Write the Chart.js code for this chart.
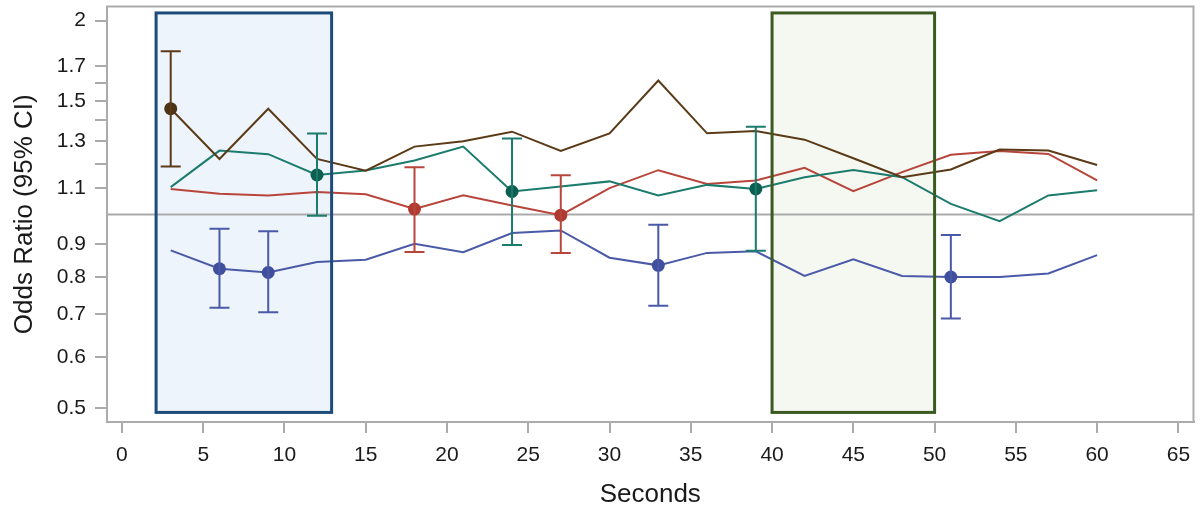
<!DOCTYPE html>
<html>
<head>
<meta charset="utf-8">
<script src="https://cdn.jsdelivr.net/npm/chart.js@4"></script>
<style>
  html, body { margin: 0; padding: 0; background: #fff; }
  #wrap { width: 1200px; height: 511px; }
</style>
</head>
<body>
<div id="wrap"><canvas id="orChart" width="1200" height="511"></canvas></div>
<script>
// time points (seconds)
const seconds = [3, 6, 9, 12, 15, 18, 21, 24, 27, 30, 33, 36, 39, 42, 45, 48, 51, 54, 57, 60];

// odds ratios per series
const brownOR = [1.46, 1.22, 1.46, 1.22, 1.17, 1.275, 1.30, 1.345, 1.255, 1.337, 1.615, 1.337, 1.348, 1.307, 1.223, 1.143, 1.175, 1.262, 1.257, 1.194];
const tealOR  = [1.103, 1.257, 1.241, 1.152, 1.171, 1.213, 1.275, 1.086, 1.106, 1.126, 1.071, 1.112, 1.096, 1.143, 1.173, 1.143, 1.039, 0.977, 1.071, 1.091];
const redOR   = [1.096, 1.077, 1.071, 1.084, 1.075, 1.020, 1.071, 1.033, 0.998, 1.099, 1.172, 1.116, 1.130, 1.182, 1.087, 1.164, 1.238, 1.255, 1.242, 1.130];
const blueOR  = [0.880, 0.824, 0.813, 0.844, 0.851, 0.901, 0.874, 0.936, 0.945, 0.857, 0.834, 0.872, 0.877, 0.803, 0.852, 0.803, 0.800, 0.800, 0.810, 0.865];

// points shown with a marker and 95% CI
const brownCiSec = [3],              brownCiLow = [1.187],               brownCiHigh = [1.793];
const tealCiSec  = [12, 24, 39],     tealCiLow  = [0.996, 0.897, 0.879], tealCiHigh  = [1.336, 1.312, 1.369];
const redCiSec   = [18, 27],         redCiLow   = [0.875, 0.872],        redCiHigh   = [1.184, 1.151];
const blueCiSec  = [6, 9, 33, 51],   blueCiLow  = [0.717, 0.705, 0.722, 0.690], blueCiHigh = [0.951, 0.942, 0.964, 0.930];

// shaded windows (seconds)
const windowStart = [2.1, 40];
const windowEnd   = [12.9, 50];
const windowLow = 0.493, windowHigh = 2.056;

// axis ticks
const xTicks = [0, 5, 10, 15, 20, 25, 30, 35, 40, 45, 50, 55, 60, 65];
const yTicksLabeled = [0.5, 0.6, 0.7, 0.8, 0.9, 1.1, 1.3, 1.5, 1.7, 2];
const yTicksMinor = [1.2, 1.4, 1.6];
const refValue = 1;

const COLORS = {
  brown: '#5b3a17', brownDot: '#4e3216',
  teal: '#1b7b6d', tealDot: '#0c5e51',
  red: '#b8453b', redDot: '#b03a30',
  blue: '#4a5aa8', blueDot: '#3f4f9e',
  axis: '#ababab'
};
const boxStyle = [
  { fill: '#eef4fc', stroke: '#1d4b7a' },
  { fill: '#f5f8f0', stroke: '#3a5a22' }
];

function makeSet(vals, ciSec, line, dot) {
  return {
    data: seconds.map((s, i) => ({ x: s, y: vals[i] })),
    borderColor: line,
    borderWidth: 2,
    pointRadius: seconds.map(s => ciSec.includes(s) ? 6.5 : 0),
    pointBackgroundColor: dot,
    pointBorderWidth: 0,
    pointHoverRadius: 0,
    tension: 0,
    fill: false
  };
}

const ciGroups = [
  { sec: brownCiSec, low: brownCiLow, high: brownCiHigh, color: COLORS.brown },
  { sec: tealCiSec, low: tealCiLow, high: tealCiHigh, color: COLORS.teal },
  { sec: redCiSec, low: redCiLow, high: redCiHigh, color: COLORS.red },
  { sec: blueCiSec, low: blueCiLow, high: blueCiHigh, color: COLORS.blue }
];

const backdrop = {
  id: 'backdrop',
  beforeDatasetsDraw(chart) {
    const { ctx, chartArea: a, scales: { x, y } } = chart;
    ctx.save();
    windowStart.forEach((s, i) => {
      const x0 = x.getPixelForValue(s), x1 = x.getPixelForValue(windowEnd[i]);
      const y0 = y.getPixelForValue(windowHigh), y1 = y.getPixelForValue(windowLow);
      ctx.fillStyle = boxStyle[i].fill;
      ctx.fillRect(x0, y0, x1 - x0, y1 - y0);
    });
    // reference line at OR = 1
    const yr = y.getPixelForValue(refValue);
    ctx.strokeStyle = COLORS.axis;
    ctx.lineWidth = 2;
    ctx.beginPath();
    ctx.moveTo(a.left, yr);
    ctx.lineTo(a.right, yr);
    ctx.stroke();
    ctx.restore();
  },
  afterDatasetsDraw(chart) {
    const { ctx, chartArea: a, scales: { x, y } } = chart;
    ctx.save();
    // error bars
    ctx.lineWidth = 2;
    ciGroups.forEach(g => {
      ctx.strokeStyle = g.color;
      g.sec.forEach((s, i) => {
        const px = x.getPixelForValue(s);
        const lo = y.getPixelForValue(g.low[i]), hi = y.getPixelForValue(g.high[i]);
        ctx.beginPath();
        ctx.moveTo(px, lo); ctx.lineTo(px, hi);
        ctx.moveTo(px - 10, lo); ctx.lineTo(px + 10, lo);
        ctx.moveTo(px - 10, hi); ctx.lineTo(px + 10, hi);
        ctx.stroke();
      });
    });
    // window outlines
    ctx.lineWidth = 3;
    windowStart.forEach((s, i) => {
      const x0 = x.getPixelForValue(s), x1 = x.getPixelForValue(windowEnd[i]);
      const y0 = y.getPixelForValue(windowHigh), y1 = y.getPixelForValue(windowLow);
      ctx.strokeStyle = boxStyle[i].stroke;
      ctx.strokeRect(x0, y0, x1 - x0, y1 - y0);
    });
    // frame
    ctx.strokeStyle = COLORS.axis;
    ctx.lineWidth = 2;
    ctx.strokeRect(a.left, a.top, a.right - a.left, a.bottom - a.top);
    ctx.restore();
  }
};

new Chart(document.getElementById('orChart'), {
  type: 'line',
  data: {
    datasets: [
      makeSet(brownOR, brownCiSec, COLORS.brown, COLORS.brownDot),
      makeSet(tealOR, tealCiSec, COLORS.teal, COLORS.tealDot),
      makeSet(redOR, redCiSec, COLORS.red, COLORS.redDot),
      makeSet(blueOR, blueCiSec, COLORS.blue, COLORS.blueDot)
    ]
  },
  options: {
    responsive: false,
    animation: false,
    layout: { padding: { left: 0, top: 4, right: 6, bottom: 0 } },
    plugins: { legend: { display: false }, tooltip: { enabled: false } },
    scales: {
      x: {
        type: 'linear',
        min: -0.92,
        max: 65.93,
        afterBuildTicks: s => { s.ticks = xTicks.map(v => ({ value: v })); },
        afterFit: s => { s.height = 89; s.paddingLeft = 0; s.paddingRight = 0; },
        grid: { drawOnChartArea: false, drawTicks: true, tickLength: 11, color: COLORS.axis, lineWidth: 2 },
        border: { color: COLORS.axis, width: 2 },
        ticks: {
          color: '#1a1a1a', padding: 10, maxRotation: 0,
          font: { family: 'Liberation Sans, Arial, sans-serif', size: 21 }
        },
        title: {
          display: true, text: 'Seconds', color: '#1a1a1a',
          font: { family: 'Liberation Sans, Arial, sans-serif', size: 26 },
          padding: { top: 0, bottom: 1 }
        }
      },
      y: {
        type: 'logarithmic',
        min: 0.4764,
        max: 2.104,
        afterBuildTicks: s => {
          s.ticks = yTicksLabeled.concat(yTicksMinor).sort((p, q) => p - q).map(v => ({ value: v }));
        },
        afterFit: s => { s.width = 107; s.paddingTop = 0; s.paddingBottom = 0; },
        grid: { drawOnChartArea: false, drawTicks: true, tickLength: 12, color: COLORS.axis, lineWidth: 2 },
        border: { color: COLORS.axis, width: 2 },
        ticks: {
          color: '#1a1a1a', padding: 9,
          font: { family: 'Liberation Sans, Arial, sans-serif', size: 21 },
          callback: v => yTicksLabeled.includes(v) ? String(v) : ''
        },
        title: {
          display: true, text: 'Odds Ratio (95% CI)', color: '#1a1a1a',
          font: { family: 'Liberation Sans, Arial, sans-serif', size: 26 },
          padding: { top: 9, bottom: 0 }
        }
      }
    }
  },
  plugins: [backdrop]
});
</script>
</body>
</html>
